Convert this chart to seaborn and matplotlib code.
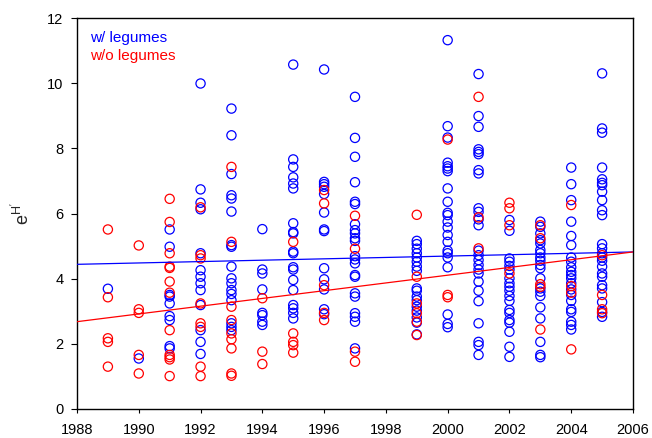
import matplotlib
matplotlib.use("Agg")
import matplotlib.pyplot as plt
import seaborn as sns
import pandas as pd

# ---- data ----
years = [1989, 1990, 1991, 1992, 1993, 1994, 1995, 1996, 1997,
         1999, 2000, 2001, 2002, 2003, 2004, 2005]

w_legumes = [
    [3.69],
    [1.55],
    [5.51, 4.98, 3.50, 3.45, 3.24, 2.85, 2.73, 1.93, 1.86],
    [9.99, 6.74, 6.33, 6.13, 4.78, 4.26, 4.06, 3.86, 3.65, 3.19, 2.42, 2.06, 1.69],
    [9.22, 8.40, 7.21, 6.56, 6.46, 6.06, 5.03, 4.98, 4.37, 4.01, 3.86, 3.65, 3.53,
     3.34, 2.63, 2.52, 2.42],
    [5.52, 4.28, 4.16, 3.67, 2.95, 2.88, 2.68, 2.58],
    [10.57, 7.66, 7.43, 7.11, 6.92, 6.77, 5.70, 5.43, 5.39, 4.83, 4.78, 4.35, 4.28,
     3.96, 3.65, 3.19, 3.09, 2.95, 2.78],
    [10.42, 6.97, 6.90, 6.82, 6.60, 6.03, 5.51, 5.46, 4.32, 3.98, 3.67, 3.06, 2.91],
    [9.58, 8.32, 7.74, 6.96, 6.36, 6.29, 5.67, 5.49, 5.39, 5.24, 5.16, 4.69, 4.59,
     4.47, 4.11, 4.06, 3.55, 3.45, 2.94, 2.83, 2.68, 1.86],
    [5.16, 5.06, 4.92, 4.78, 4.65, 4.52, 4.37, 4.24, 3.70, 3.63, 3.45, 3.34, 3.14,
     3.02, 2.81, 2.65, 2.29],
    [11.32, 8.68, 8.33, 7.56, 7.45, 7.38, 7.30, 6.77, 6.36, 6.02, 5.95, 5.75, 5.57,
     5.34, 5.13, 4.86, 4.78, 4.65, 4.35, 2.90, 2.61, 2.51],
    [10.28, 8.99, 8.66, 7.97, 7.89, 7.82, 7.33, 7.23, 6.16, 6.05, 5.82, 5.64, 4.86,
     4.72, 4.57, 4.42, 4.28, 4.16, 3.91, 3.63, 3.31, 2.63, 2.06, 1.96, 1.66],
    [5.80, 5.47, 4.62, 4.52, 4.39, 4.28, 4.01, 3.86, 3.75, 3.63, 3.47, 3.32, 3.04,
     2.95, 2.73, 2.65, 2.37, 1.91, 1.60],
    [5.75, 5.59, 5.39, 5.18, 5.08, 4.88, 4.78, 4.65, 4.55, 4.42, 4.32, 4.01, 3.70,
     3.60, 3.47, 3.12, 2.78, 2.06, 1.66, 1.59],
    [7.41, 6.90, 6.41, 5.75, 5.31, 5.03, 4.65, 4.52, 4.35, 4.21, 4.11, 4.01, 3.86,
     3.67, 3.50, 3.32, 3.06, 2.98, 2.68, 2.58, 2.44],
    [10.30, 8.61, 8.48, 7.41, 7.05, 6.94, 6.87, 6.67, 6.41, 6.10, 5.95, 5.06, 4.93,
     4.78, 4.65, 4.55, 4.37, 4.16, 4.06, 3.80, 3.70, 3.28, 2.98, 2.83],
]

wo_legumes = [
    [5.51, 3.43, 2.17, 2.06, 1.30],
    [5.02, 3.06, 2.95, 1.66, 1.09],
    [6.45, 5.74, 4.78, 4.37, 4.33, 3.91, 3.57, 2.42, 1.66, 1.59, 1.52, 1.01],
    [6.19, 4.72, 4.62, 3.24, 2.63, 2.52, 1.30, 1.01],
    [7.43, 5.13, 3.14, 2.73, 2.32, 2.14, 1.86, 1.09, 1.02],
    [3.40, 1.76, 1.38],
    [5.13, 2.32, 2.06, 1.96, 1.73],
    [6.72, 6.31, 3.80, 2.95, 2.73],
    [5.93, 4.92, 1.76, 1.45],
    [5.96, 4.06, 3.24, 2.94, 2.68, 2.27],
    [8.27, 3.50, 3.43],
    [9.58, 5.88, 4.93],
    [6.33, 6.16, 5.64, 4.16],
    [5.64, 5.24, 3.83, 3.75, 2.44],
    [6.26, 3.77, 3.57, 1.83],
    [4.72, 3.50, 3.06, 2.94],
]

# fitted trend lines (end points)
fit_x = [1988, 2006]
fit_w = [4.44, 4.82]
fit_wo = [2.68, 4.82]

series_labels = ["w/ legumes", "w/o legumes"]
x_ticks = list(range(1988, 2007, 2))
y_ticks = list(range(0, 13, 2))

# ---- build tables ----
def to_frame(groups):
    rows = [(yr, v) for yr, vals in zip(years, groups) for v in vals]
    return pd.DataFrame(rows, columns=["year", "value"])

df_w = to_frame(w_legumes)
df_wo = to_frame(wo_legumes)
df_fit_w = pd.DataFrame({"year": fit_x, "value": fit_w})
df_fit_wo = pd.DataFrame({"year": fit_x, "value": fit_wo})

# ---- plot ----
sns.set_style("ticks")
plt.rcParams["font.family"] = ["Liberation Sans", "DejaVu Sans"]

fig = plt.figure(figsize=(6.52, 4.38), dpi=100)
ax = fig.add_axes([77 / 652, 1 - 409 / 438, 556 / 652, 391 / 438])

blue = (0, 0, 1)
red = (1, 0, 0)

sns.scatterplot(data=df_w, x="year", y="value", ax=ax, marker="o", s=44,
                facecolors="none", edgecolor=blue, linewidth=0.9, zorder=2)
sns.scatterplot(data=df_wo, x="year", y="value", ax=ax, marker="o", s=44,
                facecolors="none", edgecolor=red, linewidth=0.9, zorder=2)
sns.lineplot(data=df_fit_w, x="year", y="value", ax=ax, color=blue, lw=0.9, zorder=3)
sns.lineplot(data=df_fit_wo, x="year", y="value", ax=ax, color=red, lw=0.9, zorder=3)

ax.set_xlim(1988, 2006)
ax.set_ylim(0, 12)
ax.set_xticks(x_ticks)
ax.set_yticks(y_ticks)
ax.tick_params(axis="x", direction="out", length=3, width=0.8, pad=7,
               labelsize=10.5, colors="black")
ax.tick_params(axis="y", direction="out", length=4.3, width=0.8, pad=5.5,
               labelsize=10.5, colors="black")
for sp in ax.spines.values():
    sp.set_visible(True)
    sp.set_color("black")
    sp.set_linewidth(1.0)

ax.set_xlabel("")
ax.set_ylabel(r"$\mathregular{e^{H'}}$", fontsize=13, labelpad=10)

ax.text(0.023, 0.949, series_labels[0], color=blue, fontsize=11,
        transform=ax.transAxes, va="center", ha="left")
ax.text(0.023, 0.903, series_labels[1], color=red, fontsize=11,
        transform=ax.transAxes, va="center", ha="left")

fig.savefig("out.png", dpi=100)
